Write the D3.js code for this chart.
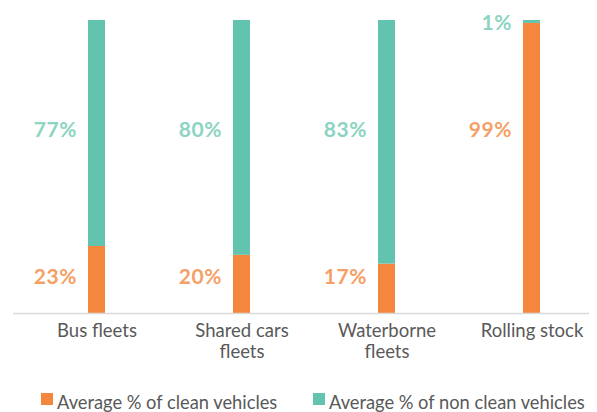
<!DOCTYPE html>
<html>
<head>
<meta charset="utf-8">
<script src="https://cdn.jsdelivr.net/npm/d3@7"></script>
<style>
  body { margin: 0; background: #fff; }
  svg { display: block; font-family: Lato, 'Open Sans', sans-serif; }
</style>
</head>
<body>
<script>
const categories = ['Bus fleets', 'Shared cars fleets', 'Waterborne fleets', 'Rolling stock']
const categoryLines = [['Bus fleets'], ['Shared cars', 'fleets'], ['Waterborne', 'fleets'], ['Rolling stock']]
const cleanValues = [23, 20, 17, 99]
const nonCleanValues = [77, 80, 83, 1]
const seriesNames = ['Average % of clean vehicles', 'Average % of non clean vehicles']

const width = 597
const height = 412
const barWidth = 17

const colors = { clean: '#f4873d', nonClean: '#62c4ae' }
const labelColors = { clean: '#f5a066', nonClean: '#8dd4c2' }

const svg = d3.select('body').append('svg')
  .attr('width', width)
  .attr('height', height)

const x = d3.scalePoint()
  .domain(categories)
  .range([96.5, 531.5])

const y = d3.scaleLinear()
  .domain([0, 100])
  .range([313.5, 20])

const rows = categories.map((c, i) => ({
  cat: c,
  lines: categoryLines[i],
  clean: cleanValues[i],
  nonClean: nonCleanValues[i]
}))

const stack = d3.stack().keys(['clean', 'nonClean'])(rows)

svg.append('g')
  .selectAll('g')
  .data(stack)
  .enter()
  .append('g')
  .attr('fill', s => colors[s.key])
  .selectAll('rect')
  .data(s => s)
  .enter()
  .append('rect')
  .attr('x', d => x(d.data.cat) - barWidth / 2)
  .attr('width', barWidth)
  .attr('y', d => y(d[1]))
  .attr('height', d => y(d[0]) - y(d[1]))

// axis line
svg.append('line')
  .attr('x1', 13).attr('x2', 589)
  .attr('y1', y(0)).attr('y2', y(0))
  .attr('stroke', '#d9d9d9')
  .attr('stroke-width', 1.5)

// category labels
const axis = svg.append('g')
  .attr('transform', `translate(0,${y(0)})`)
  .call(d3.axisBottom(x).tickSize(0).tickPadding(0))

axis.select('.domain').remove()
axis.selectAll('.tick text').each(function (d, i) {
  const t = d3.select(this)
    .text(null)
    .attr('y', 0)
    .attr('dy', null)
    .attr('fill', '#595959')
    .style('font-size', '18.5px')
    .style('font-family', 'Lato, sans-serif')
  categoryLines[i].forEach((line, j) => {
    t.append('tspan')
      .attr('x', 0)
      .attr('y', 23.5 + j * 21)
      .text(line)
  })
})

// value labels
function labelY (key, d) {
  const v = d.data[key]
  const other = key === 'clean' ? d.data.nonClean : d.data.clean
  if (v < 5) return y(d[1]) + 3
  return v >= other ? y(62.5) : y(12.4)
}

stack.forEach(s => {
  svg.append('g')
    .selectAll('text')
    .data(s)
    .enter()
    .append('text')
    .attr('x', d => x(d.data.cat) - barWidth / 2 - 11)
    .attr('y', d => labelY(s.key, d))
    .attr('dy', '0.35em')
    .attr('text-anchor', 'end')
    .attr('fill', labelColors[s.key])
    .style('font-size', '21px')
    .style('letter-spacing', '0.6px')
    .style('font-weight', 'bold')
    .text(d => d.data[s.key] + '%')
})

// legend
const legend = svg.append('g')
  .selectAll('g')
  .data(seriesNames)
  .enter()
  .append('g')
  .attr('transform', (d, i) => `translate(${i === 0 ? 41 : 313},393)`)

legend.append('rect')
  .attr('width', 12)
  .attr('height', 12)
  .attr('fill', (d, i) => i === 0 ? colors.clean : colors.nonClean)

legend.append('text')
  .attr('x', 16)
  .attr('y', 15.5)
  .attr('fill', '#595959')
  .style('font-size', '18.3px')
  .text(d => d)
</script>
</body>
</html>
